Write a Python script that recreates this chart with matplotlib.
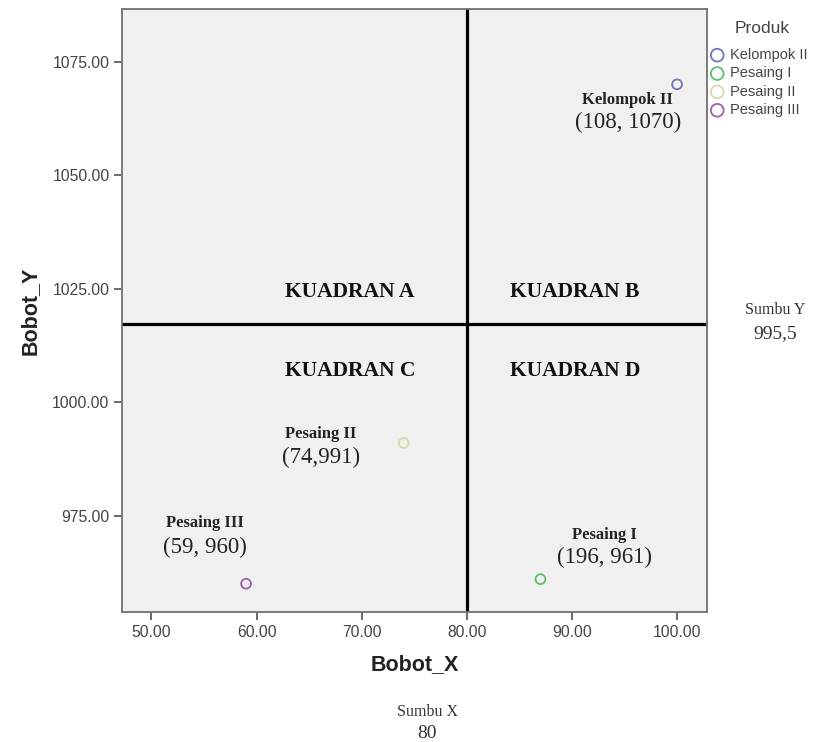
import numpy as np
import matplotlib.pyplot as plt

# data
produk = ["Kelompok II", "Pesaing I", "Pesaing II", "Pesaing III"]
bobot_x = [100, 87, 74, 59]
bobot_y = [1070, 961, 991, 960]
warna = ["#6f75b8", "#5cbf6e", "#ddd6a8", "#a15fa6"]

# label titik (nama, koordinat) -- posisi teks dalam satuan data
label_nama = ["Kelompok II", "Pesaing I", "Pesaing II", "Pesaing III"]
label_koord = ["(108, 1070)", "(196, 961)", "(74,991)", "(59, 960)"]
label_x = [95.3, 93.1, 66.1, 55.1]
label_y1 = [1066.6, 970.7, 993.0, 973.4]
label_y2 = [1061.5, 965.7, 987.7, 967.9]

kuadran = ["KUADRAN A", "KUADRAN B", "KUADRAN C", "KUADRAN D"]
kuadran_x = [68.9, 90.3, 68.9, 90.3]
kuadran_y = [1024.3, 1024.3, 1006.9, 1006.9]

sumbu_x = 80
sumbu_y = 1017.2

fig = plt.figure(figsize=(8.14, 7.42), dpi=100)
ax = fig.add_axes([0.1499, 0.1748, 0.7187, 0.8131])
ax.set_facecolor("#f0f0f0")

for i in range(len(produk)):
    ax.scatter(bobot_x[i], bobot_y[i], s=50, facecolors="none",
               edgecolors=warna[i], linewidths=1.3, label=produk[i], zorder=3)

ax.axvline(sumbu_x, color="black", lw=2.3, zorder=2)
ax.axhline(sumbu_y, color="black", lw=2.3, zorder=2)

ax.set_xlim(47.2, 102.85)
ax.set_ylim(953.7, 1086.6)
ax.set_xticks([50, 60, 70, 80, 90, 100])
ax.set_yticks([975, 1000, 1025, 1050, 1075])
ax.xaxis.set_major_formatter(plt.FormatStrFormatter("%.2f"))
ax.yaxis.set_major_formatter(plt.FormatStrFormatter("%.2f"))
ax.tick_params(direction="out", length=6, width=1.2, color="#505050",
               labelsize=11.3, labelcolor="#444444", pad=3)
for sp in ax.spines.values():
    sp.set_color("#707070")
    sp.set_linewidth(1.3)

ax.set_xlabel("Bobot_X", fontsize=15.5, fontweight="bold", color="#222222",
              family="Liberation Sans", labelpad=10)
ax.set_ylabel("Bobot_Y", fontsize=15.5, fontweight="bold", color="#222222",
              family="Liberation Sans", labelpad=8)
for lab in ax.get_xticklabels() + ax.get_yticklabels():
    lab.set_family("Liberation Sans")

for i in range(len(kuadran)):
    ax.text(kuadran_x[i], kuadran_y[i], kuadran[i], ha="center", va="center",
            fontsize=15.5, fontweight="bold", family="Liberation Serif",
            color="#111111")

for i in range(len(label_nama)):
    ax.text(label_x[i], label_y1[i], label_nama[i], ha="center", va="center",
            fontsize=12, fontweight="bold", family="Liberation Serif",
            color="#222222")
    ax.text(label_x[i], label_y2[i], label_koord[i], ha="center", va="center",
            fontsize=16.5, family="Liberation Serif", color="#222222")

fig.text(0.952, 0.582, "Sumbu Y", ha="center", va="center", fontsize=11.5,
         family="Liberation Serif", color="#333333")
fig.text(0.952, 0.551, "995,5", ha="center", va="center", fontsize=14,
         family="Liberation Serif", color="#333333")
fig.text(0.5246, 0.0404, "Sumbu X", ha="center", va="center", fontsize=11.5,
         family="Liberation Serif", color="#333333")
fig.text(0.5246, 0.0121, "80", ha="center", va="center", fontsize=14,
         family="Liberation Serif", color="#333333")

# judul legenda ditulis terpisah supaya jaraknya bisa diatur
fig.text(0.936, 0.962, "Produk", ha="center", va="center", fontsize=12.5,
         family="Liberation Sans", color="#444444")
leg = ax.legend(loc="upper left", bbox_to_anchor=(0.995, 0.945), frameon=False,
                handletextpad=0.4, labelspacing=0.3,
                borderaxespad=0.0, handlelength=1.0, markerscale=1.3,
                prop={"family": "Liberation Sans", "size": 10.5})
for t in leg.get_texts():
    t.set_color("#444444")

fig.savefig("out.png", dpi=100)
